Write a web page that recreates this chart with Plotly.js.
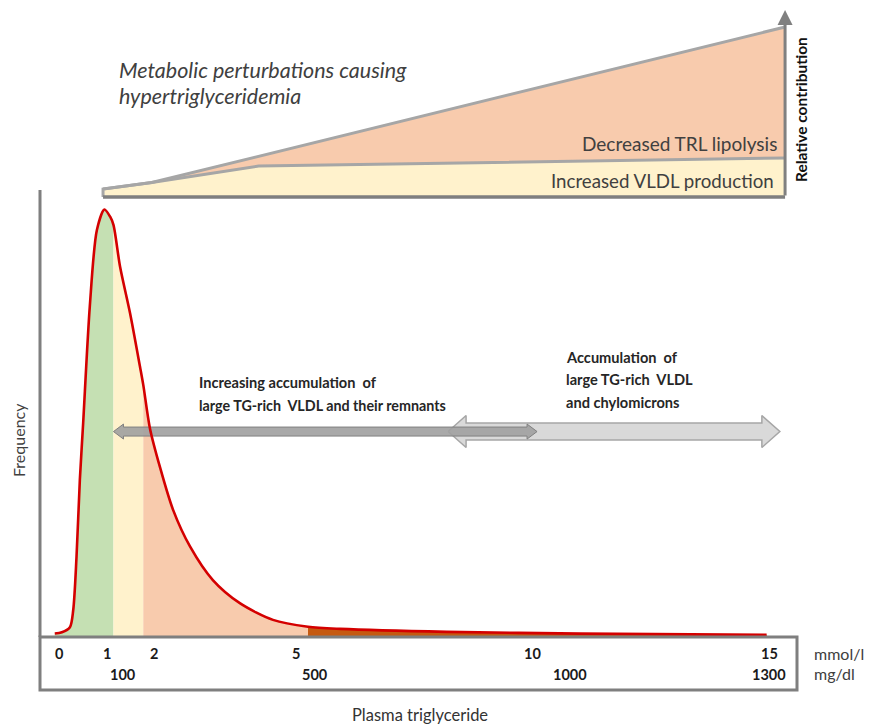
<!DOCTYPE html>
<html><head><meta charset="utf-8">
<script src="https://cdn.plot.ly/plotly-3.0.1.min.js"></script>
<style>body{margin:0;background:#fff}#chart{width:879px;height:726px}</style>
</head><body><div id="chart"></div>
<script>
// ---- Data: distribution of plasma triglyceride (mmol/l) ----
const tgLevel   = [-0.10,0.05,0.22,0.29,0.36,0.43,0.50,0.64,0.79,0.95,1.07,1.14,1.28,1.49,1.70,1.77,1.91,2.12,2.40,2.76,3.24,3.81,4.51,5.25,5.93,8.18,11.00,14.94];
const frequency = [0.8,1.1,2.3,6.3,18.8,36.7,50.0,77.2,95.1,99.9,98.2,96.3,86.5,75.7,63.2,58.9,48.8,39.8,29.7,21.1,13.3,7.9,4.0,2.4,1.9,1.2,0.8,0.5];
// shaded bands under the curve (mmol/l limits)
const bandLimits = [[-0.10,1.14],[1.14,1.77],[1.77,5.25],[5.25,14.94]];
// ---- Data: relative contribution wedge ----
const vldlTG    = [0.92, 1.95, 4.21, 15.33];
const vldlContribution  = [4.7, 8.5, 18.2, 23.0];
const totalTG   = [0.92, 1.95, 15.33];
const totalContribution = [4.7, 8.5, 100];
// ---- Data: arrows (mmol/l ranges) ----
const remnantRange = [1.14, 10.09];
const chyloRange   = [8.21, 15.22];
const arrowLevel   = 48.0;
// ---- Tick labels ----
const mmolTicks = [0, 1, 2, 5, 10, 15];
const mgdlTicks = ['100', '500', '1000', '1300'];
const mgdlAt    = [1.34, 5.40, 10.79, 15.0];

const W = 879, H = 726;
const PXX = 47.33, PXY = 4.28; // px per unit
const FONT = 'Lato, "Open Sans", sans-serif';
const bandColors = ['#c5e0b3', '#fff2cc', '#f8cbad', '#c55a11'];

const traces = [];
bandLimits.forEach((b, i) => {
  const xs = [], ys = [];
  tgLevel.forEach((x, k) => { if (x >= b[0] - 1e-9 && x <= b[1] + 1e-9) { xs.push(x); ys.push(frequency[k]); } });
  traces.push({x: xs, y: ys, type: 'scatter', mode: 'lines', fill: 'tozeroy',
    fillcolor: bandColors[i], line: {width: 0, shape: 'spline', smoothing: 0.8}, hoverinfo: 'skip', xaxis: 'x', yaxis: 'y'});
});

function dblArrow(x0, x1, y, shaftPx, headPx, lenPx) {
  const hl = lenPx / PXX, sh = shaftPx / PXY, hh = headPx / PXY;
  const xs = [x0, x0 + hl, x0 + hl, x1 - hl, x1 - hl, x1, x1 - hl, x1 - hl, x0 + hl, x0 + hl, x0];
  const ys = [y, y + hh, y + sh, y + sh, y + hh, y, y - hh, y - sh, y - sh, y - hh, y];
  return {xs, ys};
}
const a2 = dblArrow(chyloRange[0], chyloRange[1], arrowLevel, 8.5, 16, 18);
traces.push({x: a2.xs, y: a2.ys, type: 'scatter', mode: 'lines', fill: 'toself', fillcolor: '#d9d9d9',
  line: {color: '#a6a6a6', width: 1.5}, hoverinfo: 'skip'});
const a1 = dblArrow(remnantRange[0], remnantRange[1], arrowLevel, 4.5, 7.5, 10);
traces.push({x: a1.xs, y: a1.ys, type: 'scatter', mode: 'lines', fill: 'toself', fillcolor: 'rgba(160,160,160,0.9)',
  line: {color: '#808080', width: 1}, hoverinfo: 'skip'});

traces.push({x: tgLevel, y: frequency, type: 'scatter', mode: 'lines',
  line: {color: '#d40000', width: 2.6, shape: 'spline', smoothing: 0.8}, hoverinfo: 'skip'});

// wedge
traces.push({x: vldlTG, y: vldlContribution, type: 'scatter', mode: 'lines', fill: 'tozeroy', fillcolor: '#fff2cc',
  line: {width: 0}, xaxis: 'x', yaxis: 'y2', hoverinfo: 'skip'});
traces.push({x: totalTG, y: totalContribution, type: 'scatter', mode: 'lines', fill: 'tonexty', fillcolor: '#f8cbad',
  line: {width: 0}, xaxis: 'x', yaxis: 'y2', hoverinfo: 'skip'});
traces.push({x: vldlTG, y: vldlContribution, type: 'scatter', mode: 'lines',
  line: {color: '#a6a6a6', width: 3}, xaxis: 'x', yaxis: 'y2', hoverinfo: 'skip'});
traces.push({x: [totalTG[0]].concat(totalTG), y: [0].concat(totalContribution), type: 'scatter', mode: 'lines',
  line: {color: '#a6a6a6', width: 3}, xaxis: 'x', yaxis: 'y2', hoverinfo: 'skip'});
traces.push({x: [totalTG[0], totalTG[totalTG.length - 1]], y: [0, 0], type: 'scatter', mode: 'lines',
  line: {color: '#7f7f7f', width: 3.5}, xaxis: 'x', yaxis: 'y2', hoverinfo: 'skip'});

const px = v => v / W, py = v => 1 - v / H;
function txt(text, x, y, size, opts) {
  return Object.assign({text, x: px(x), y: py(y), xref: 'paper', yref: 'paper', showarrow: false,
    xanchor: 'left', yanchor: 'middle', font: {family: FONT, size: size, color: '#404040'}}, opts || {});
}
const BOLDC = '#262626';
const ann = [
  txt('<i>Metabolic perturbations causing</i>', 117, 70, 21.5),
  txt('<i>hypertriglyceridemia</i>', 117, 96, 21.5),
  txt('Decreased TRL lipolysis', 779, 143, 19, {xanchor: 'right'}),
  txt('Increased VLDL production', 776, 181, 18.7, {xanchor: 'right'}),
  txt('<b>Relative contribution</b>', 801, 110, 15.5, {xanchor: 'center', textangle: -90, font: {family: FONT, size: 15.5, color: '#111'}}),
  txt('Frequency', 18, 440, 16, {xanchor: 'center', textangle: -90}),
  txt('<b>Increasing accumulation  of</b>', 197, 382, 14.6, {font: {family: FONT, size: 14.6, color: BOLDC}}),
  txt('<b>large TG-rich  VLDL and their remnants</b>', 197, 405, 14.3, {font: {family: FONT, size: 14.3, color: BOLDC}}),
  txt('<b>Accumulation  of</b>', 564, 357, 14.6, {font: {family: FONT, size: 14.6, color: BOLDC}}),
  txt('<b>large TG-rich  VLDL</b>', 564, 380, 14.6, {font: {family: FONT, size: 14.6, color: BOLDC}}),
  txt('<b>and chylomicrons</b>', 564, 402, 14.6, {font: {family: FONT, size: 14.6, color: BOLDC}}),
  txt('mmol/l', 812, 653, 16),
  txt('mg/dl', 812, 673, 16),
  txt('Plasma triglyceride', 420, 715, 16.5, {xanchor: 'center', font: {family: FONT, size: 16.5, color: '#333'}})
];
mmolTicks.forEach(t => ann.push({text: '<b>' + t + '</b>', x: t, y: py(653), xref: 'x', yref: 'paper', showarrow: false,
  xanchor: 'center', yanchor: 'middle', font: {family: FONT, size: 14.5, color: '#1a1a1a'}}));
mgdlTicks.forEach((t, i) => ann.push({text: '<b>' + t + '</b>', x: mgdlAt[i], y: py(674), xref: 'x', yref: 'paper', showarrow: false,
  xanchor: 'center', yanchor: 'middle', font: {family: FONT, size: 14.5, color: '#1a1a1a'}}));
// vertical "relative contribution" arrow
ann.push({x: totalTG[totalTG.length - 1], y: 110, xref: 'x', yref: 'y2', ax: totalTG[totalTG.length - 1], ay: 0,
  axref: 'x', ayref: 'y2', showarrow: true, arrowhead: 2, arrowsize: 1, arrowwidth: 3, arrowcolor: '#808080', text: ''});

const shapes = [
  {type: 'line', xref: 'paper', yref: 'paper', x0: px(40), x1: px(40), y0: py(190), y1: py(637), line: {color: '#7f7f7f', width: 3}},
  {type: 'rect', xref: 'paper', yref: 'paper', x0: px(40), x1: px(797), y0: py(637), y1: py(690), line: {color: '#7f7f7f', width: 3}}
];

const layout = {
  width: W, height: H, margin: {l: 0, r: 0, t: 0, b: 0}, paper_bgcolor: '#fff', plot_bgcolor: '#fff',
  showlegend: false,
  xaxis: {range: [-59.5 / PXX, (W - 59.5) / PXX], visible: false, fixedrange: true},
  yaxis: {range: [(637 - H) / PXY, 637 / PXY], visible: false, fixedrange: true},
  yaxis2: {range: [(197 - H) / 1.7, 197 / 1.7], visible: false, overlaying: 'y', fixedrange: true},
  annotations: ann, shapes: shapes
};
Plotly.newPlot('chart', traces, layout, {staticPlot: true});
</script></body></html>
